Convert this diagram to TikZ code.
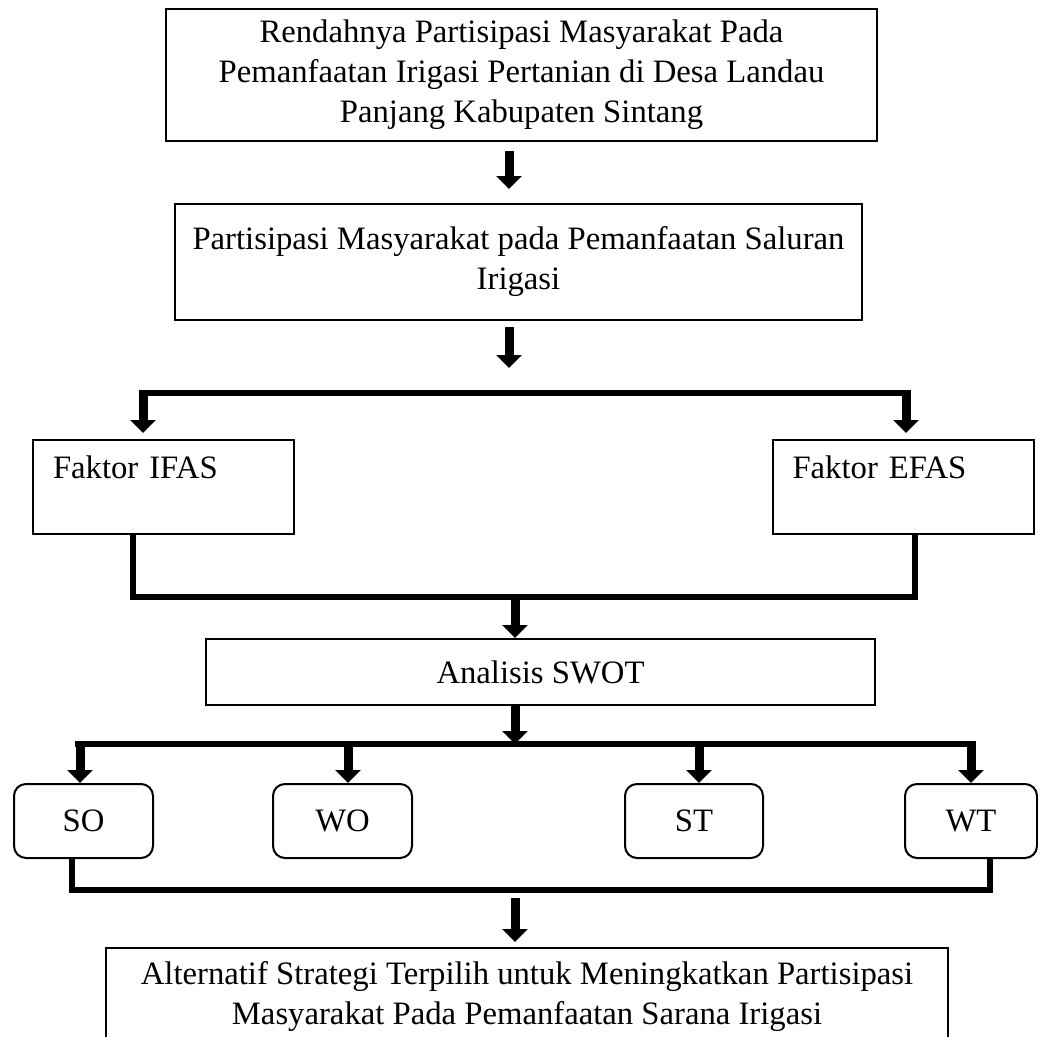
\documentclass[tikz,border=0pt]{standalone}
\usepackage{fontspec}
\setmainfont{Liberation Serif}
\usetikzlibrary{arrows.meta}

\tikzset{
  box/.style = {draw, line width=2pt, align=center, inner sep=0pt,
                font=\fontsize{32.7}{40}\selectfont},
  sidebox/.style = {box, align=left, text width=221pt, inner xsep=20pt,
                    minimum height=94pt},
  stratbox/.style = {box, rounded corners=12pt, minimum height=74pt},
  flow/.style = {line width=9pt, -{Triangle[width=25pt,length=13pt]}},
  joint/.style = {line width=6pt},
}

\begin{document}
\begin{tikzpicture}[x=1pt, y=-1pt]
    \useasboundingbox (0,0) rectangle (1038,1036);
    % Boxes
    \node[box, minimum width=711pt, minimum height=132pt] (masalah) at (521.5,75)
      {Rendahnya Partisipasi Masyarakat Pada\\Pemanfaatan Irigasi Pertanian di Desa Landau\\Panjang Kabupaten Sintang};
    \node[box, minimum width=687pt, minimum height=116pt] (partisipasi) at (518.5,262)
      {Partisipasi Masyarakat pada Pemanfaatan Saluran\\Irigasi};
    \node[sidebox] (ifas) at (163.5,487) {Faktor IFAS\\\mbox{}};
    \node[sidebox] (efas) at (903,487) {Faktor EFAS\\\mbox{}};
    \node[box, minimum width=669pt, minimum height=66pt] (swot) at (540.5,672) {Analisis SWOT};
    \node[stratbox, minimum width=139pt] (so) at (83.5,821) {SO};
    \node[stratbox, minimum width=139pt] (wo) at (342.5,821) {WO};
    \node[stratbox, minimum width=138pt] (st) at (694,821) {ST};
    \node[stratbox, minimum width=132pt] (wt) at (971,821) {WT};
    \node[box, minimum width=842pt, minimum height=98pt] (strategi) at (527,997)
      {Alternatif Strategi Terpilih untuk Meningkatkan Partisipasi\\Masyarakat Pada Pemanfaatan Sarana Irigasi};

    % Joints of the lines
    \coordinate (bagi) at (509,393);
    \coordinate (gabung) at (515,597);
    \coordinate (cabang) at (515,744);
    \coordinate (hasil) at (515,890);

    % Arrows and lines
    \draw[flow] ([xshift=-12.5pt,yshift=-9pt]masalah.south) -- ([xshift=-9.5pt,yshift=14pt]partisipasi.north);
    \draw[flow] ([xshift=-9.5pt,yshift=-6pt]partisipasi.south) -- ([yshift=25pt]bagi);
    \draw[joint] (ifas.north |- bagi) ++(-20.5pt,0) -- ([xshift=3pt]efas.north |- bagi);
    \draw[flow] ([xshift=-20.5pt,yshift=3pt]ifas.north |- bagi) -- ([xshift=-20.5pt,yshift=6pt]ifas.north);
    \draw[flow] ([xshift=3pt,yshift=3pt]efas.north |- bagi) -- ([xshift=3pt,yshift=6pt]efas.north);
    \draw[joint] ([xshift=-30.5pt]ifas.south) |- (gabung) -| ([xshift=12pt]efas.south);
    \draw[flow] ([yshift=3pt]gabung) -- ([xshift=-25.5pt]swot.north);
    \draw[flow] ([xshift=-25.5pt]swot.south) -- (cabang);
    \draw[joint] ([xshift=-3.5pt]so.north |- cabang) ++(-5pt,0) -- ([xshift=5pt]wt.north |- cabang);
    \foreach \n/\dx in {so/-3.5, wo/5.5, st/5, wt/0}
      \draw[flow] ([xshift=\dx pt,yshift=3pt]\n.north |- cabang) -- ([xshift=\dx pt]\n.north);
    \draw[joint] ([xshift=-11.5pt]so.south) |- (hasil) -| ([xshift=19pt]wt.south);
    \draw[flow] ([yshift=-8pt]hasil) -- ([xshift=-12pt,yshift=5pt]strategi.north);
\end{tikzpicture}
\end{document}
